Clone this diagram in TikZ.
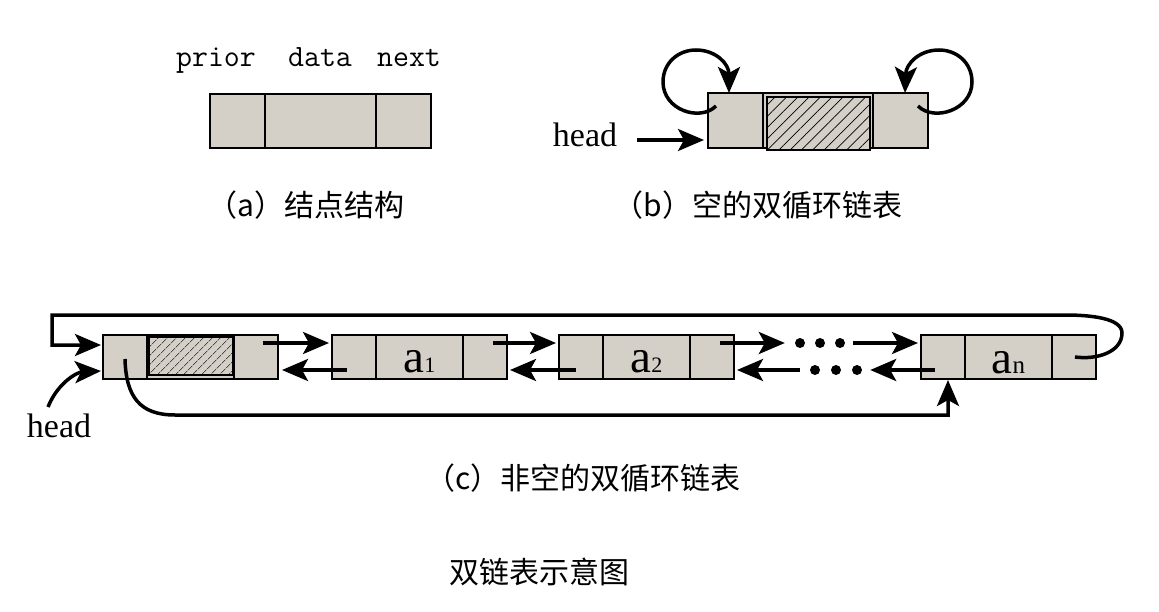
\documentclass[tikz,border=0pt]{standalone}
\usepackage{fontspec}
\newfontfamily\cjk{Noto Sans CJK SC}
\newfontfamily\lserif{Liberation Serif}
\usetikzlibrary{arrows.meta,calc,patterns.meta}
\definecolor{cellgray}{HTML}{D4D0C8}
\begin{document}
\begin{tikzpicture}[x=1pt,y=-1pt,
  cell/.style={draw, fill=cellgray, line width=1.2pt, inner sep=0pt, outer sep=0pt, minimum height=44pt, anchor=north west},
  ptr/.style={line width=3.5pt, -{Stealth[length=26pt,width=22pt,inset=6pt]}},
  hatchbox/.style={draw, line width=1.6pt, preaction={fill=cellgray}, pattern={Lines[angle=45,distance=#1,line width=0.7pt]}},
  hatchbox/.default=7pt,
  dot/.style={circle, fill=black, inner sep=0pt, minimum size=10pt},
  captxt/.style={font=\cjk\fontsize{30}{36}\selectfont, inner sep=0pt},
  fieldlbl/.style={font=\ttfamily\fontsize{31}{36}\selectfont, anchor=base, inner sep=0pt},
  headlbl/.style={font=\lserif\fontsize{34}{38}\selectfont, anchor=base, inner sep=0pt},
  elem/.style={font=\lserif\fontsize{47}{52}\selectfont, anchor=base, inner sep=0pt}
]
\fill[white] (0,0) rectangle (1159,612);
\useasboundingbox (0,0) rectangle (1159,612);

% ---------- (a) node structure ----------
\node[cell, minimum width=55pt, minimum height=54pt] (aP) at (210,94) {};
\node[cell, minimum width=111pt, minimum height=54pt] (aD) at (265,94) {};
\node[cell, minimum width=55pt, minimum height=54pt] (aN) at (376,94) {};
\node[fieldlbl] (lprior) at (216,67) {prior};
\node[fieldlbl] (ldata) at (320,67) {data};
\node[fieldlbl] (lnext) at (409,67) {next};
\node[captxt] (capa) at (306,205) {（a）结点结构};

% ---------- (b) empty circular list ----------
\node[cell, minimum width=55pt, minimum height=55pt] (bP) at (708,93) {};
\node[cell, minimum width=110pt, minimum height=55pt] (bD) at (763,93) {};
\node[cell, minimum width=55pt, minimum height=55pt] (bN) at (873,93) {};
\draw[hatchbox=8pt] ($(bD.north west)+(4,4)$) rectangle ($(bD.south east)+(-3,2)$);
\draw[ptr] ($(bP.north west)+(8,13)$) .. controls (700,122) and (663,110) .. (663,82)
   .. controls (663,63) and (678,50) .. (696,50)
   .. controls (716,50) and (729,64) .. ($(bP.north west)+(21,0)$);
\draw[ptr] ($(bN.north west)+(45,13)$) .. controls (934,122) and (972,110) .. (972,82)
   .. controls (972,63) and (957,50) .. (939,50)
   .. controls (919,50) and (906,64) .. ($(bN.north west)+(32,0)$);
\node[headlbl] (bhead) at (585,147) {head};
\coordinate (bhs) at (637,140);
\draw[ptr] (bhs) -- ($(bP.south west)+(-4,-8)$);
\node[captxt] (capb) at (758,205) {（b）空的双循环链表};

% ---------- (c) non-empty circular list ----------
\node[cell, minimum width=44pt] (hP) at (103,335) {};
\node[cell, minimum width=87pt] (hD) at (147,335) {};
\node[cell, minimum width=44pt] (hN) at (234,335) {};
\draw[hatchbox=6.5pt] ($(hD.north west)+(2,2)$) rectangle ($(hD.south east)+(-1,-4)$);

\node[cell, minimum width=44pt] (a1P) at (332,335) {};
\node[cell, minimum width=87pt] (a1D) at (376,335) {};
\node[cell, minimum width=44pt] (a1N) at (463,335) {};
\node[elem] (la1) at (a1D.center |- 0,372) {a{\fontsize{22}{26}\selectfont 1}};

\node[cell, minimum width=44pt] (a2P) at (559,335) {};
\node[cell, minimum width=87pt] (a2D) at (603,335) {};
\node[cell, minimum width=44pt] (a2N) at (690,335) {};
\node[elem] (la2) at (a2D.center |- 0,372) {a{\fontsize{22}{26}\selectfont 2}};

\node[cell, minimum width=44pt] (anP) at (921,335) {};
\node[cell, minimum width=87pt] (anD) at (965,335) {};
\node[cell, minimum width=44pt] (anN) at (1052,335) {};
\node[elem] (lan) at (anD.center |- 0,373) {a{\fontsize{25}{28}\selectfont n}};

% dots
\node[dot] (d1) at (800,343) {};
\node[dot] (d2) at (820,343) {};
\node[dot] (d3) at (840,343) {};
\node[dot] (e1) at (815,370) {};
\node[dot] (e2) at (836,370) {};
\node[dot] (e3) at (857,370) {};

% forward links
\draw[ptr] ($(hN.north west)+(29,8)$) -- ($(a1P.north west)+(-3,8)$);
\draw[ptr] ($(a1N.north west)+(30,8)$) -- ($(a2P.north west)+(-3,8)$);
\draw[ptr] ($(a2N.north west)+(30,8)$) -- ($(d1.west)+(-10,0)$);
\draw[ptr] ($(d3.east)+(8,0)$) -- ($(anP.north west)+(-3,8)$);
% backward links
\draw[ptr] ($(a1P.south west)+(15,-9)$) -- ($(hN.south east)+(4,-9)$);
\draw[ptr] ($(a2P.south west)+(17,-9)$) -- ($(a1N.south east)+(3,-9)$);
\draw[ptr] ($(anP.south west)+(14,-9)$) -- ($(e3.east)+(8,0)$);
\draw[ptr] ($(e1.west)+(-10,0)$) -- ($(a2N.south east)+(3,-9)$);

% last node next -> head
\draw[ptr] ($(anN.center)+(1,0)$) .. controls (1097,360) and (1122,352) .. (1122,333)
   .. controls (1122,318) and (1090,315) .. (1065,315)
   -- (52,315) -- (52,345) -- ($(hP.north west)+(-2,10)$);
% head prior -> last node
\draw[ptr] ($(hP.center)+(0,2)$) .. controls (126,397) and (140,415) .. (175,415)
   -- ($(anP.south)+(5,36)$) -- ($(anP.south)+(5,1)$);

% head pointer
\node[headlbl] (chead) at (59,437) {head};
\coordinate (chs) at (48,407);
\draw[ptr] (chs) .. controls (58,382) and (78,372) .. ($(hP.south west)+(-2,-8)$);

\node[captxt] (capc) at (583,478) {（c）非空的双循环链表};
\node[captxt] (title) at (539,572) {双链表示意图};
\end{tikzpicture}
\end{document}
